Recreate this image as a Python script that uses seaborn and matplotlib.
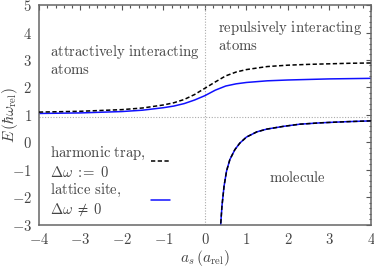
import numpy as np
import pandas as pd
import matplotlib
matplotlib.use("Agg")
import matplotlib.pyplot as plt
import seaborn as sns
from matplotlib.ticker import AutoMinorLocator, FuncFormatter

# ------------------------
# DATA
# ------------------------
x_upper = [-4, -3, -2, -1.5, -1, -0.75, -0.5, -0.25, 0, 0.25, 0.5, 0.75, 1, 1.5, 2, 2.5, 3, 3.5, 4]
e_trap_upper = [1.10, 1.13, 1.19, 1.25, 1.36, 1.44, 1.56, 1.74, 1.97, 2.20, 2.42, 2.56, 2.65,
                2.76, 2.81, 2.84, 2.86, 2.88, 2.89]
e_latt_upper = [1.05, 1.07, 1.12, 1.17, 1.26, 1.32, 1.41, 1.54, 1.70, 1.90, 2.05, 2.13, 2.18,
                2.24, 2.27, 2.29, 2.31, 2.32, 2.33]

x_mol = [0.37, 0.41, 0.46, 0.52, 0.60, 0.72, 0.84, 1.00, 1.25, 1.49, 1.89, 2.29, 2.8, 3.4, 4.0]
e_trap_mol = [-3.2, -2.32, -1.60, -1.05, -0.63, -0.27, -0.03, 0.19, 0.38, 0.48, 0.58, 0.66,
              0.71, 0.75, 0.78]
e_latt_mol = [-3.2, -2.32, -1.60, -1.05, -0.63, -0.27, -0.03, 0.19, 0.38, 0.48, 0.58, 0.66,
              0.71, 0.75, 0.78]

threshold = 0.92  # horizontal dotted reference line

# ------------------------
# STYLE
# ------------------------
sns.set_theme(style="white")
plt.rcParams["mathtext.fontset"] = "cm"
plt.rcParams["font.family"] = ["DejaVu Serif"]
txt_col = "#444444"
fs = 11
fs_note = 10.6

fig = plt.figure(figsize=(3.74, 2.68), dpi=100)
ax = fig.add_axes([0.104, 0.162, 0.888, 0.819])

ax.axvline(0, color="#aaaaaa", ls=(0, (1, 1.5)), lw=0.8, zorder=1)
ax.axhline(threshold, color="#aaaaaa", ls=(0, (1, 1.5)), lw=0.8, zorder=1)

dash = (0, (2.8, 1.6))
for xs, ys in [(x_upper, e_latt_upper), (x_mol, e_latt_mol)]:
    sns.lineplot(x=xs, y=ys, ax=ax, color="#1010ff", lw=1.1, sort=False, zorder=2)
for xs, ys in [(x_upper, e_trap_upper), (x_mol, e_trap_mol)]:
    sns.lineplot(x=xs, y=ys, ax=ax, color="black", lw=1.1, linestyle=dash, sort=False, zorder=3)

ax.set_xlim(-4, 4)
ax.set_ylim(-3, 5)
ax.set_xticks(range(-4, 5))
ax.set_yticks(range(-3, 6))
ax.xaxis.set_minor_locator(AutoMinorLocator(5))
ax.yaxis.set_minor_locator(AutoMinorLocator(5))
fmt = FuncFormatter(lambda v, p: f"${v:g}$")
ax.xaxis.set_major_formatter(fmt)
ax.yaxis.set_major_formatter(fmt)
ax.tick_params(which="both", direction="in", top=True, right=True, colors="#555555",
               labelcolor=txt_col, labelsize=10.6, width=0.8)
ax.tick_params(which="major", length=3.5, pad=5)
ax.tick_params(which="minor", length=1.8)
for s in ax.spines.values():
    s.set_color("#666666")
    s.set_linewidth(1.1)

ax.set_xlabel(r"$a_s\,(a_{\rm rel})$", fontsize=fs, color=txt_col)
ax.set_ylabel(r"$E\,(\hbar\omega_{\rm rel})$", fontsize=fs, color=txt_col)
ax.xaxis.set_label_coords(0.5, -0.105)
ax.yaxis.set_label_coords(-0.058, 0.5)

tk = dict(fontsize=fs_note, color=txt_col, linespacing=1.2)
ax.text(-3.73, 3.0, "$\\mathrm{attractively\\ interacting}$\n$\\mathrm{atoms}$", va="center", **tk)
ax.text(0.31, 3.87, "$\\mathrm{repulsively\\ interacting}$\n$\\mathrm{atoms}$", va="center", **tk)
ax.text(2.24, -1.28, "$\\mathrm{molecule}$", ha="center", va="center", **tk)
ax.text(-3.73, -0.74, "$\\mathrm{harmonic\\ trap,}$\n$\\Delta\\omega\\;{:}\\!\\!{=}\\;0$", va="center", **tk)
ax.text(-3.73, -2.10, "$\\mathrm{lattice\\ site,}$\n$\\Delta\\omega\\;\\neq\\;0$", va="center", **tk)

# legend samples
ax.plot([0.337, 0.395], [0.288, 0.288], transform=ax.transAxes, color="black", lw=1.1, ls=dash)
ax.plot([0.337, 0.395], [0.111, 0.111], transform=ax.transAxes, color="#1010ff", lw=1.1)

fig.savefig("out.png", dpi=100)
